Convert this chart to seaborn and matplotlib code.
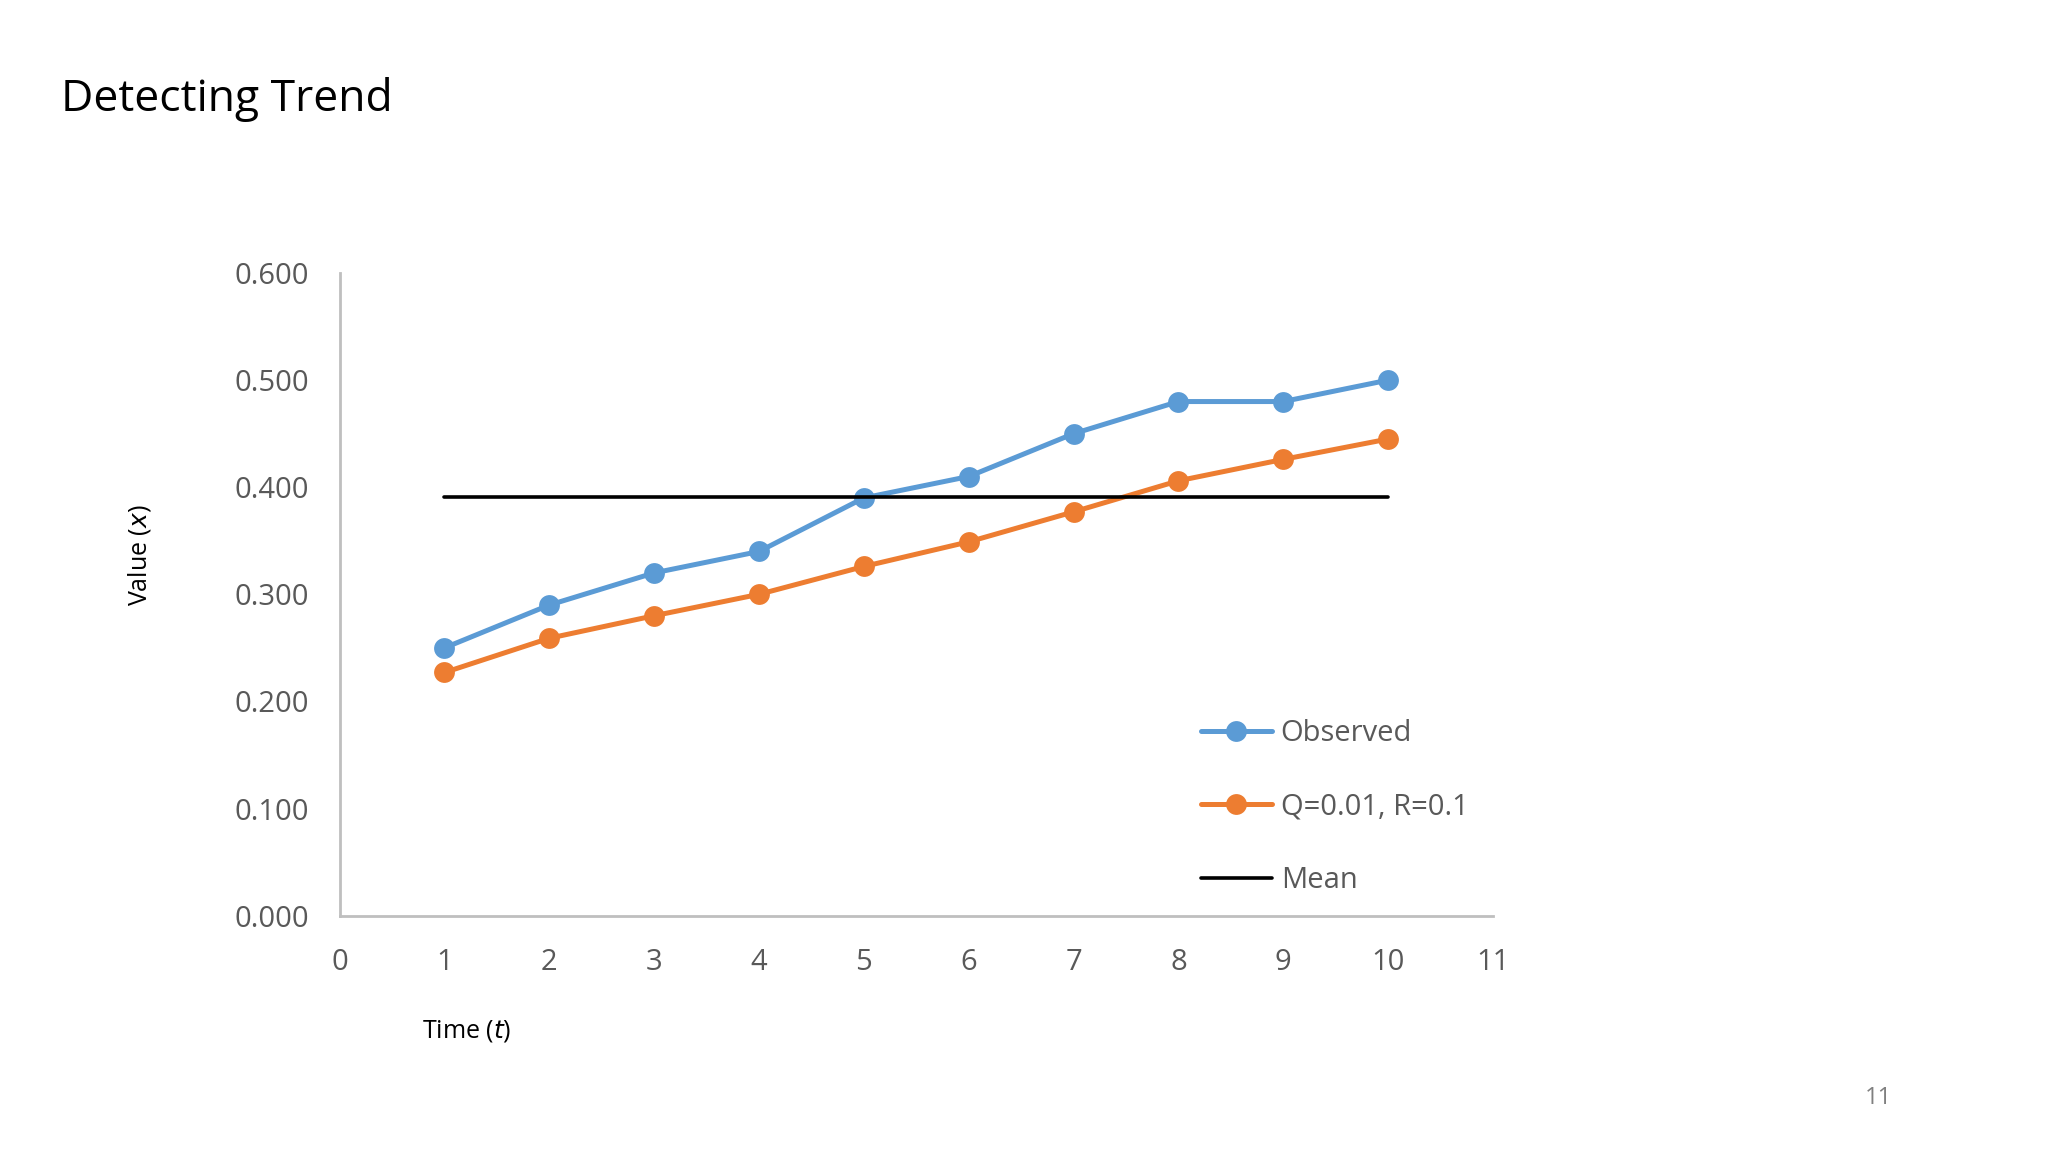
import matplotlib
matplotlib.use("Agg")
import matplotlib.pyplot as plt
import seaborn as sns
import pandas as pd
import numpy as np

# values
time = [1, 2, 3, 4, 5, 6, 7, 8, 9, 10]
observed = [0.25, 0.29, 0.32, 0.34, 0.39, 0.41, 0.45, 0.48, 0.48, 0.50]
filtered = [0.227, 0.259, 0.280, 0.300, 0.326, 0.349, 0.377, 0.406, 0.426, 0.445]
mean_value = np.mean(observed)

labels = ["Observed", "Q=0.01, R=0.1", "Mean"]
colors = ["#5B9BD5", "#ED7D31", "#000000"]

df = pd.DataFrame({"t": time, "obs": observed, "filt": filtered})
df["mean"] = mean_value

sns.set_style("white")
plt.rcParams["font.family"] = ["Open Sans", "DejaVu Sans"]
grey = "#595959"

fig = plt.figure(figsize=(20.48, 11.52), dpi=100)
ax = fig.add_axes([0.1658, 0.2052, 0.5632, 0.5578])

sns.lineplot(data=df, x="t", y="obs", ax=ax, color=colors[0], linewidth=3.6,
             marker="o", markersize=15, markeredgewidth=0, label=labels[0])
sns.lineplot(data=df, x="t", y="filt", ax=ax, color=colors[1], linewidth=3.6,
             marker="o", markersize=15, markeredgewidth=0, label=labels[1])
sns.lineplot(data=df, x="t", y="mean", ax=ax, color=colors[2], linewidth=2.6,
             label=labels[2])

ax.set_xlim(0, 11)
ax.set_ylim(0, 0.6)
ax.set_xticks(range(0, 12))
ax.set_yticks(np.arange(0, 0.61, 0.1))
ax.set_yticklabels([f"{v:.3f}" for v in np.arange(0, 0.61, 0.1)])
ax.set_xlabel("")
ax.set_ylabel("")
ax.tick_params(axis="both", length=0, labelsize=21, labelcolor=grey)
ax.tick_params(axis="y", pad=22)
ax.tick_params(axis="x", pad=23)
for s in ["top", "right"]:
    ax.spines[s].set_visible(False)
for s in ["left", "bottom"]:
    ax.spines[s].set_color("#BFBFBF")
    ax.spines[s].set_linewidth(2)

leg = ax.legend(loc="upper left", bbox_to_anchor=(0.5805, 0.386),
                bbox_transform=fig.transFigure, frameon=False, fontsize=21,
                labelspacing=1.53, handlelength=2.45, handletextpad=0.3,
                borderaxespad=0)
for t in leg.get_texts():
    t.set_color(grey)

fig.text(0.030, 0.914, "Detecting Trend", fontsize=32, ha="left", va="center",
         color="black")
fig.text(0.068, 0.518, "Value ($x$)", fontsize=18, rotation=90, ha="center",
         va="center", color="black")
fig.text(0.228, 0.105, "Time ($t$)", fontsize=18, ha="center", va="center",
         color="black")
fig.text(0.917, 0.047, "11", fontsize=17, ha="center", va="center", color="#808080")

fig.savefig("out.png", dpi=100, facecolor="white")
